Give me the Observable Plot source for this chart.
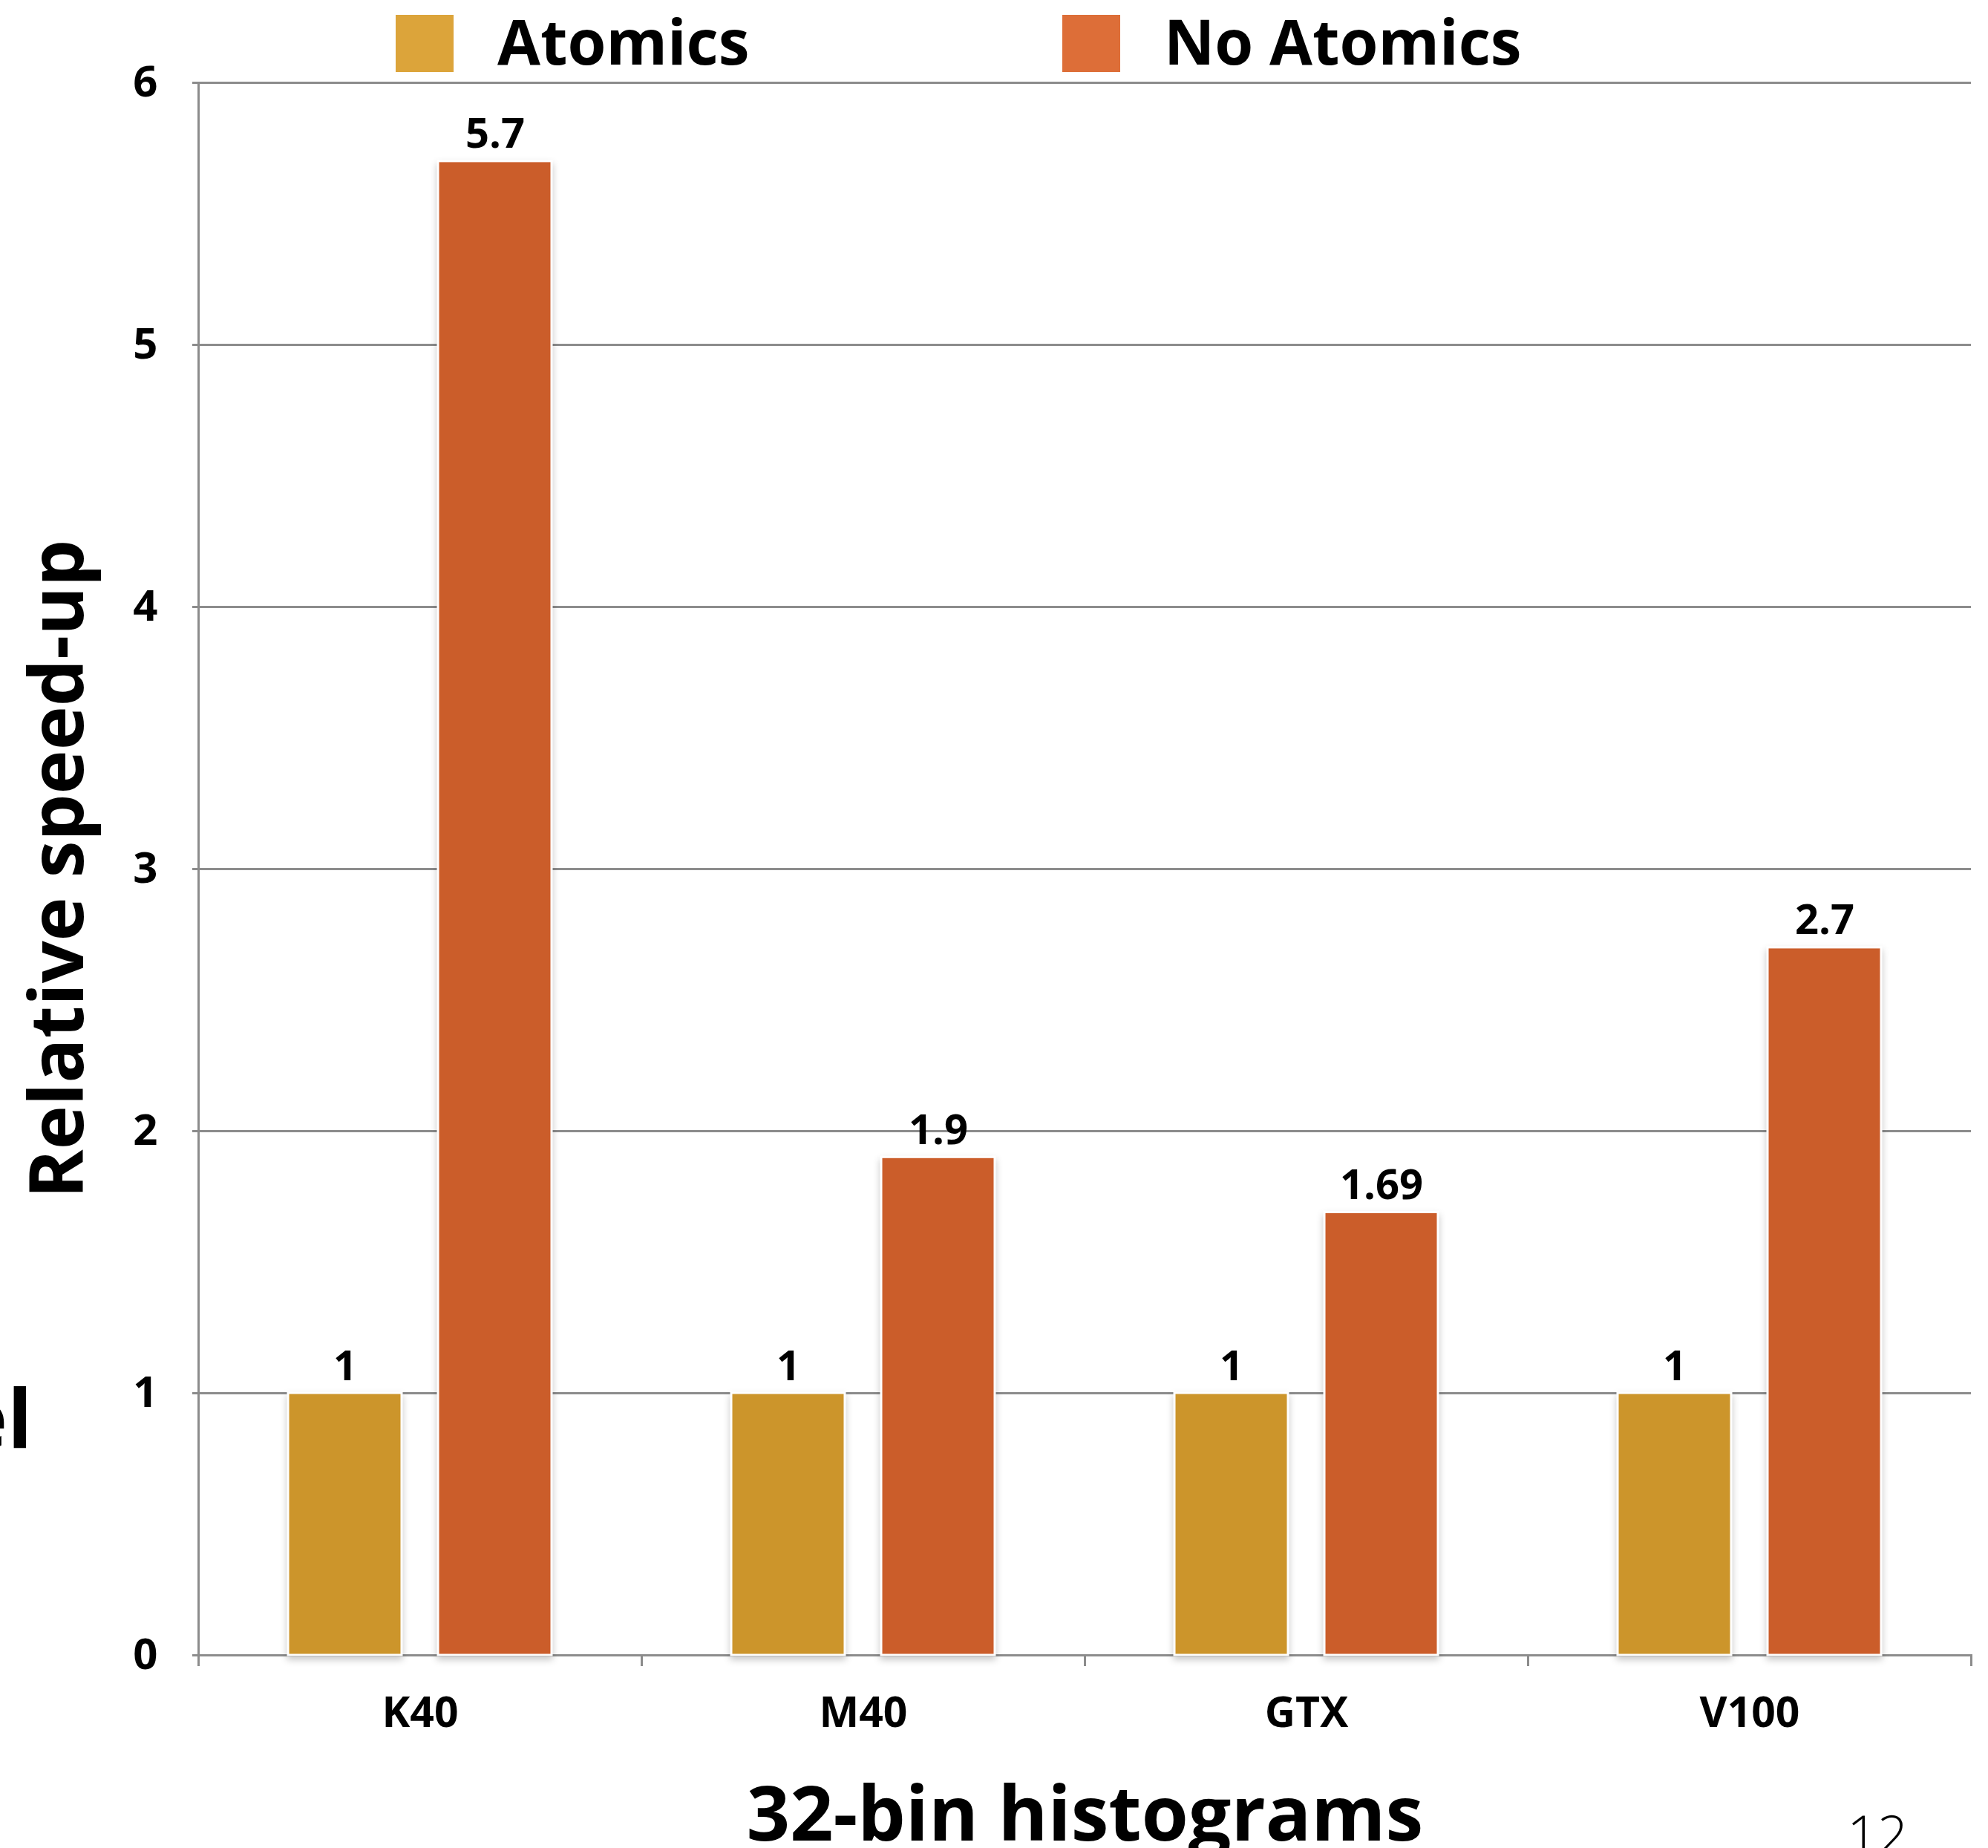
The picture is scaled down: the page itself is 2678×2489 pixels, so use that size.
<!DOCTYPE html>
<html>
<head>
<meta charset="utf-8">
<script src="https://cdn.jsdelivr.net/npm/d3@7"></script>
<script src="https://cdn.jsdelivr.net/npm/@observablehq/plot@0.6"></script>
<style>
  html, body { margin: 0; padding: 0; background: #fff; }
  body { width: 2678px; height: 2489px; overflow: hidden; position: relative; font-family: "Open Sans", sans-serif; color: #000; }
  #legend { height: 100px; display: flex; padding-left: 533px; box-sizing: border-box; }
  .item { display: flex; align-items: flex-start; width: 898px; height: 100px; }
  .sw { width: 78px; height: 77px; margin-top: 20px; flex: none; }
  .lbl { margin-left: 59px; margin-top: 13px; font-size: 84px; line-height: 1; font-weight: 700; white-space: nowrap; }
  #chart svg { display: block; overflow: visible; }
  g[aria-label="bar"] rect { filter: drop-shadow(0px 5px 5px rgba(0,0,0,0.22)); }
  #pagenum { position: absolute; left: 2488px; top: 2433px; font-size: 72px; line-height: 1; font-weight: 300; }
  #stray { position: absolute; left: -55px; top: 1852px; font-size: 110px; line-height: 1; font-weight: 700; }
</style>
</head>
<body>
<div id="legend"></div>
<div id="chart"></div>
<div id="stray">el</div>
<div id="pagenum">12</div>
<script>
// ---- data ----
const gpus = ["K40", "M40", "GTX", "V100"];
const series = ["Atomics", "No Atomics"];
const atomicsValues = [1, 1, 1, 1];
const noAtomicsValues = [5.7, 1.9, 1.69, 2.7];
const yTicks = [0, 1, 2, 3, 4, 5, 6];
const barColors = ["#CC952B", "#CB5D2A"];
const legendColors = ["#DCA43A", "#DD6E38"];
const xTitle = "32-bin histograms";
const yTitle = "Relative speed-up";

const data = gpus.flatMap((g, i) => [
  {gpu: g, series: series[0], value: atomicsValues[i]},
  {gpu: g, series: series[1], value: noAtomicsValues[i]}
]);

// ---- legend ----
const legend = document.getElementById("legend");
series.forEach((s, i) => {
  const item = document.createElement("div");
  item.className = "item";
  const sw = document.createElement("div");
  sw.className = "sw";
  sw.style.background = legendColors[i];
  const lbl = document.createElement("div");
  lbl.className = "lbl";
  lbl.textContent = s;
  item.appendChild(sw);
  item.appendChild(lbl);
  legend.appendChild(item);
});

// ---- chart ----
const W = 2678, H = 2389, mT = 11, mB = 260, mL = 265, mR = 22;
const plotH = H - mT - mB;
const gray = "#8c8c8c";

const chart = Plot.plot({
  width: W,
  height: H,
  marginTop: mT,
  marginBottom: mB,
  marginLeft: mL,
  marginRight: mR,
  style: {fontFamily: "'Open Sans', sans-serif", color: "black", background: "white", overflow: "visible"},
  fx: {domain: gpus, padding: 0},
  x: {domain: series, paddingInner: 0.241, paddingOuter: 0.593, axis: null},
  y: {domain: [0, 6]},
  color: {domain: series, range: barColors},
  marks: [
    Plot.ruleY(yTicks, {stroke: gray, strokeWidth: 3}),
    Plot.frame({anchor: "left", facetAnchor: "left", stroke: gray, strokeWidth: 3, insetBottom: -13}),
    Plot.frame({anchor: "left", stroke: gray, strokeWidth: 3, insetTop: plotH, insetBottom: -13}),
    Plot.frame({anchor: "right", stroke: gray, strokeWidth: 3, insetTop: plotH, insetBottom: -13}),
    Plot.barY(data, {fx: "gpu", x: "series", y: "value", fill: "series", stroke: "white", strokeWidth: 3}),
    Plot.text(data, {fx: "gpu", x: "series", y: "value", text: d => String(d.value), lineAnchor: "bottom", dy: -18, fontSize: 56, fontWeight: 700, fill: "black"}),
    Plot.axisY({ticks: yTicks, tickFormat: d => String(d), tickSize: 8, tickPadding: 47, fontSize: 58, fontWeight: 700, stroke: gray, strokeWidth: 3, fill: "black", label: null}),
    Plot.axisY({ticks: [], tickSize: 0, fontSize: 100, fontWeight: 700, fill: "black", label: yTitle, labelArrow: "none", labelAnchor: "center", labelOffset: 227}),
    Plot.axisFx({anchor: "bottom", tickSize: 0, tickPadding: 56, fontSize: 57, fontWeight: 700, fill: "black", label: null}),
    Plot.axisFx({anchor: "bottom", ticks: [], tickSize: 0, fontSize: 102, fontWeight: 700, fill: "black", label: xTitle, labelArrow: "none", labelAnchor: "center", labelOffset: 249})
  ]
});
document.getElementById("chart").appendChild(chart);
</script>
</body>
</html>
